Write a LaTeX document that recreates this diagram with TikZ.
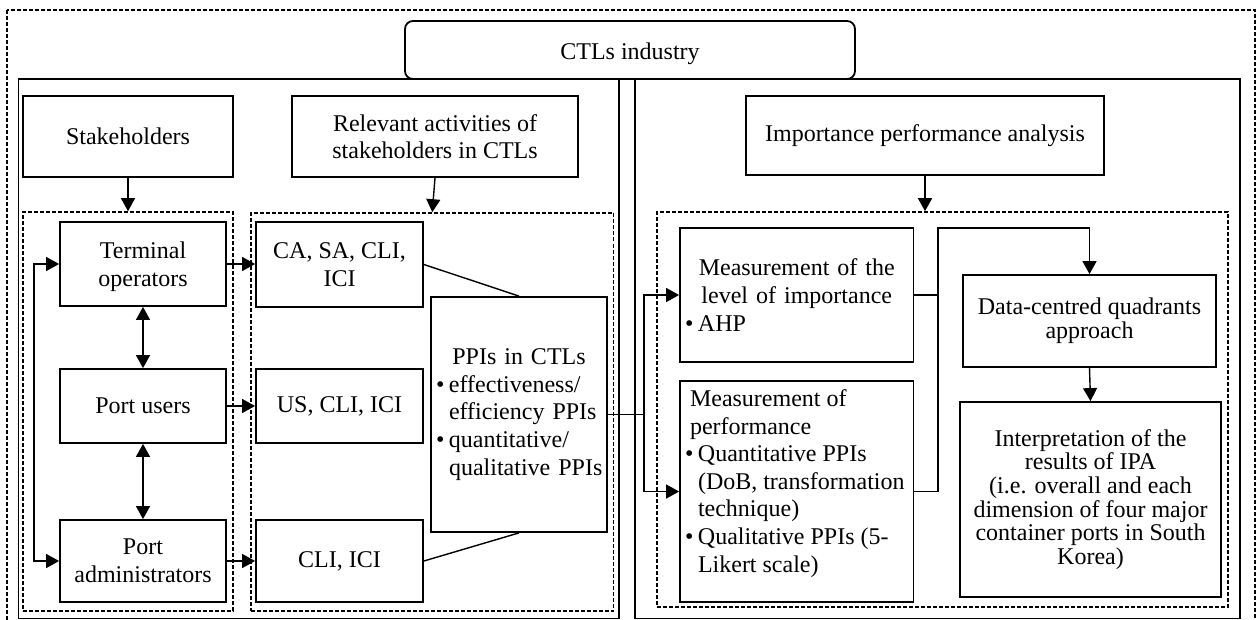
\documentclass[tikz,border=0pt]{standalone}
\usepackage{fontspec}
\setmainfont{Liberation Serif}
\usetikzlibrary{arrows.meta}
\newcommand{\mybul}{\makebox[6.5pt][l]{\textbullet}}
\newcommand{\myind}{\hspace*{6.5pt}}
\begin{document}
\begin{tikzpicture}[x=0.5pt,y=-0.5pt,
  every node/.style={font=\fontsize{12pt}{13.8pt}\selectfont},
  blk/.style={draw, line width=0.9pt, inner sep=0pt, align=center},
  grp/.style={draw, line width=0.8pt, dash pattern=on 2pt off 1pt, inner sep=0pt},
  frame/.style={draw, line width=0.9pt},
  con/.style={line width=0.7pt},
  arr/.style={con, -{Triangle[length=6.5pt,width=7pt]}},
  darr/.style={con, {Triangle[length=6.5pt,width=7pt]}-{Triangle[length=6.5pt,width=7pt]}},
]
\useasboundingbox (0,0) rectangle (1257,620);
\draw[grp] (7,10) rectangle (1255,623);
\draw[frame] (18.4,79) rectangle (619,618.5);
\draw[frame] (635,79) rectangle (1240,618.5);
\node[draw, line width=0.9pt, rounded corners=4pt, fill=white, minimum width=225pt, minimum height=29pt, inner sep=0pt, text depth=0pt, text height=10pt] (ctl) at (630,50) {CTLs industry};

\node[blk, minimum width=105pt, minimum height=40.5pt] (stk) at (128,136.5) {Stakeholders};
\node[blk, minimum width=143pt, minimum height=40.5pt] (rel) at (435,136.5) {Relevant activities of\\stakeholders in CTLs};
\node[blk, minimum width=179pt, minimum height=39.5pt] (ipa) at (925,135.5) {Importance performance analysis};

\node[grp, minimum width=105pt, minimum height=199.5pt] (gl) at (128,411.5) {};
\node[grp, minimum width=181.25pt, minimum height=199pt] (gm) at (432.25,412) {};
\node[grp, minimum width=285.5pt, minimum height=197.5pt] (gr) at (942.5,409.5) {};

\node[blk, minimum width=83pt, minimum height=42pt, text depth=0pt] (to) at (143,264) {Terminal\\operators};
\node[blk, minimum width=83pt, minimum height=37pt] (pu) at (143,406) {Port users};
\node[blk, minimum width=83pt, minimum height=41pt] (pa) at (143,561) {Port\\administrators};
\node[blk, minimum width=83.5pt, minimum height=42.5pt] (ca) at (339.5,264.5) {CA, SA, CLI,\\ICI};
\node[blk, minimum width=83.5pt, minimum height=37pt] (us) at (339.5,406) {US, CLI, ICI};
\node[blk, minimum width=83.5pt, minimum height=41pt] (cl) at (339.5,561) {CLI, ICI};

\node[blk, minimum width=88pt, minimum height=117.5pt, text width=83pt, align=left, inner xsep=2.5pt] (ppi) at (519,414.5)
  {{\centering PPIs in CTLs\par}\mbox{\mybul effectiveness/}\\\mbox{\myind efficiency PPIs}\\\mbox{\mybul quantitative/}\\\mbox{\myind qualitative PPIs}};

\node[blk, minimum width=116.75pt, minimum height=67pt, text width=111.75pt, align=left, inner xsep=2.5pt] (mi) at (796.75,295)
  {{\centering Measurement of the\\level of importance\par}\mybul AHP};
\node[blk, minimum width=116.75pt, minimum height=110.5pt, inner xsep=2.5pt, inner ysep=4.3pt] (mp) at (796.75,491.5)
  {\parbox[c][101.9pt][t]{111.75pt}{\raggedright\hspace*{2.5pt}Measurement of\\\hspace*{2.5pt}performance\\\mbox{\mybul Quantitative PPIs}\\\mbox{\myind (DoB, transformation}\\\mbox{\myind technique)}\\\mbox{\mybul Qualitative PPIs (5-}\\\mbox{\myind Likert scale)}}};

\node[blk, minimum width=126.5pt, minimum height=46pt, font=\fontsize{12pt}{12pt}\selectfont] (dc) at (1089.5,321) {Data-centred quadrants\\approach};
\node[blk, minimum width=130.5pt, minimum height=97.5pt, font=\fontsize{12pt}{11.8pt}\selectfont] (ip) at (1090.5,499.5)
  {Interpretation of the\\results of IPA\\(i.e. overall and each\\dimension of four major\\container ports in South\\Korea)};

\draw[arr] (stk.south) -- (gl.north);
\draw[arr] (rel.south) -- (gm.north);
\draw[arr] (ipa.south) -- (ipa.south |- gr.north);
\draw[arr] (to.east) -- (to.east -| ca.west);
\draw[arr] (pu.east) -- (us.west);
\draw[arr] (pa.east) -- (pa.east -| cl.west);
\draw[darr] (to.south) -- (pu.north);
\draw[darr] (pu.south) -- (pa.north);
\coordinate (lx) at (34,0);
\draw[darr] (to.west) -- (to.west -| lx) |- (pa.west);
\draw[con] (ca.east) -- (ppi.north);
\draw[con] (cl.east) -- (ppi.south);
\coordinate (jx) at (644,0);
\draw[con] (ppi.east) -- (ppi.east -| jx);
\draw[arr] (ppi.east -| jx) |- (mi.west);
\draw[arr] (ppi.east -| jx) |- (mp.west);
\coordinate (kx) at (938,228);
\draw[con] (mi.east) -- (mi.east -| kx);
\draw[arr] (mp.east) -| (kx) -| (dc.north);
\draw[arr] (dc.south) -- (ip.north);
\end{tikzpicture}
\end{document}
